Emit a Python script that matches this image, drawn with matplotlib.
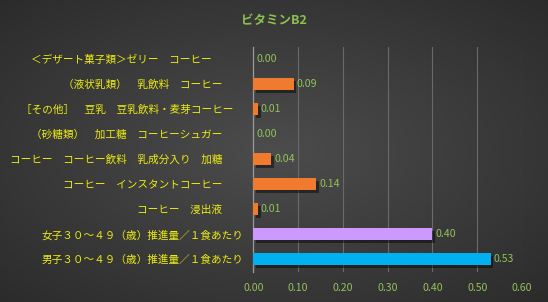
import numpy as np
import matplotlib.pyplot as plt
import matplotlib.patheffects as pe

plt.rcParams['font.family'] = ['Noto Sans CJK JP', 'DejaVu Sans']

# data (top to bottom as shown)
labels = [
    '＜デザート菓子類＞ゼリー　コーヒー　　　',
    '（液状乳類）　乳飲料　コーヒー　　',
    '［その他］　豆乳　豆乳飲料・麦芽コーヒー　',
    '（砂糖類）　加工糖　コーヒーシュガー　　',
    'コーヒー　コーヒー飲料　乳成分入り　加糖　　',
    'コーヒー　インスタントコーヒー　　',
    'コーヒー　浸出液　　',
    '女子３０～４９（歳）推進量／１食あたり',
    '男子３０～４９（歳）推進量／１食あたり',
]
values = [0.00, 0.09, 0.01, 0.00, 0.04, 0.14, 0.01, 0.40, 0.53]
colors = ['#F07A2E'] * 7 + ['#CC99FF', '#00B0F0']
ticks = [0.0, 0.1, 0.2, 0.3, 0.4, 0.5, 0.6]

label_color = '#EDED10'
num_color = '#92C25A'

fig = plt.figure(figsize=(5.48, 3.02), dpi=100)

# radial gradient background
bg = fig.add_axes([0, 0, 1, 1], zorder=0)
xx, yy = np.meshgrid(np.linspace(-1, 1, 548), np.linspace(-1, 1, 302))
r = np.clip(np.sqrt(xx ** 2 + yy ** 2) / np.sqrt(2), 0, 1)
shade = 0.30 - 0.13 * r
bg.imshow(np.dstack([shade] * 3), aspect='auto', extent=[0, 1, 0, 1])
bg.set_axis_off()

ax = fig.add_axes([253.3 / 548, 1 - 271.5 / 302, (522 - 253.3) / 548, 225 / 302], zorder=1)
ax.patch.set_alpha(0)

y = np.arange(len(labels))
bars = ax.barh(y, values, height=0.5, color=colors, zorder=3)
for b in bars:
    b.set_path_effects([pe.SimplePatchShadow(offset=(2, -2), shadow_rgbFace='black', alpha=0.45), pe.Normal()])

for yi, v in zip(y, values):
    ax.text(v + 0.007, yi, f'{v:.2f}', va='center', ha='left', color=num_color, fontsize=7.6)

ax.set_xlim(0, 0.6)
ax.set_ylim(len(labels) - 0.5, -0.5)
ax.set_xticks(ticks)
ax.set_xticklabels([f'{t:.2f}' for t in ticks])
ax.set_yticks(y)
ax.set_yticklabels(labels)
ax.tick_params(axis='x', length=0, colors=num_color, labelsize=7.6, pad=8)
ax.tick_params(axis='y', length=0, colors=label_color, labelsize=7.65, pad=7)
ax.grid(axis='x', color='#6A6A6A', linewidth=0.8, zorder=0)
for s in ['top', 'right', 'bottom']:
    ax.spines[s].set_visible(False)
ax.spines['left'].set_color('#9A9A9A')
ax.spines['left'].set_linewidth(0.9)

fig.text(0.5, 1 - 20 / 302, 'ビタミンB2', ha='center', va='center', color='#8CC04E', fontsize=9, fontweight='bold')

fig.savefig('out.png', dpi=100)
